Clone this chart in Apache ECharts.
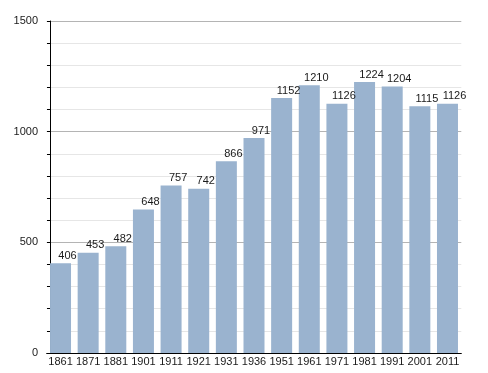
<!DOCTYPE html>
<html>
<head>
<meta charset="utf-8">
<script src="https://cdn.jsdelivr.net/npm/echarts@6/dist/echarts.min.js"></script>
<style>html,body{margin:0;padding:0;background:#fff}#c{width:488px;height:373px}</style>
</head>
<body>
<div id="c"></div>
<script>
const years = ['1861','1871','1881','1901','1911','1921','1931','1936','1951','1961','1971','1981','1991','2001','2011'];
const population = [406,453,482,648,757,742,866,971,1152,1210,1126,1224,1204,1115,1126];
const yTicks = [0,500,1000,1500];

const chart = echarts.init(document.getElementById('c'), null, {renderer:'canvas'});
chart.setOption({
  animation: false,
  backgroundColor: '#fff',
  grid: {left: 46.7, right: 26.7, top: 21, bottom: 20, containLabel: false},
  xAxis: {
    type: 'category',
    data: years,
    axisLine: {show: true, lineStyle: {color: '#000', width: 1}},
    axisTick: {show: false},
    axisLabel: {color: '#1a1a1a', fontSize: 11, fontFamily: 'Liberation Sans, Arial, sans-serif', margin: 3, interval: 0},
    splitLine: {show: false}
  },
  yAxis: {
    type: 'value',
    min: yTicks[0],
    max: yTicks[yTicks.length-1],
    interval: 500,
    offset: -3.3,
    axisLine: {show: true, lineStyle: {color: '#000', width: 1}},
    axisTick: {show: true, length: 3, lineStyle: {color: '#000'}},
    minorTick: {show: true, splitNumber: 5, length: 3, lineStyle: {color: '#000'}},
    axisLabel: {color: '#1a1a1a', fontSize: 11, fontFamily: 'Liberation Sans, Arial, sans-serif', margin: 12,
      formatter: function (v) { return String(v); }},
    splitLine: {show: true, lineStyle: {color: '#b4b4b4', width: 1}},
    minorSplitLine: {show: true, lineStyle: {color: '#e6e6e6', width: 1}}
  },
  series: [{
    type: 'bar',
    data: population,
    barWidth: 21,
    itemStyle: {color: '#9ab3cf'},
    label: {
      show: true,
      position: 'top',
      distance: 2,
      offset: [7, 0],
      color: '#1a1a1a',
      fontSize: 11,
      fontFamily: 'Liberation Sans, Arial, sans-serif'
    }
  }]
});
</script>
</body>
</html>
